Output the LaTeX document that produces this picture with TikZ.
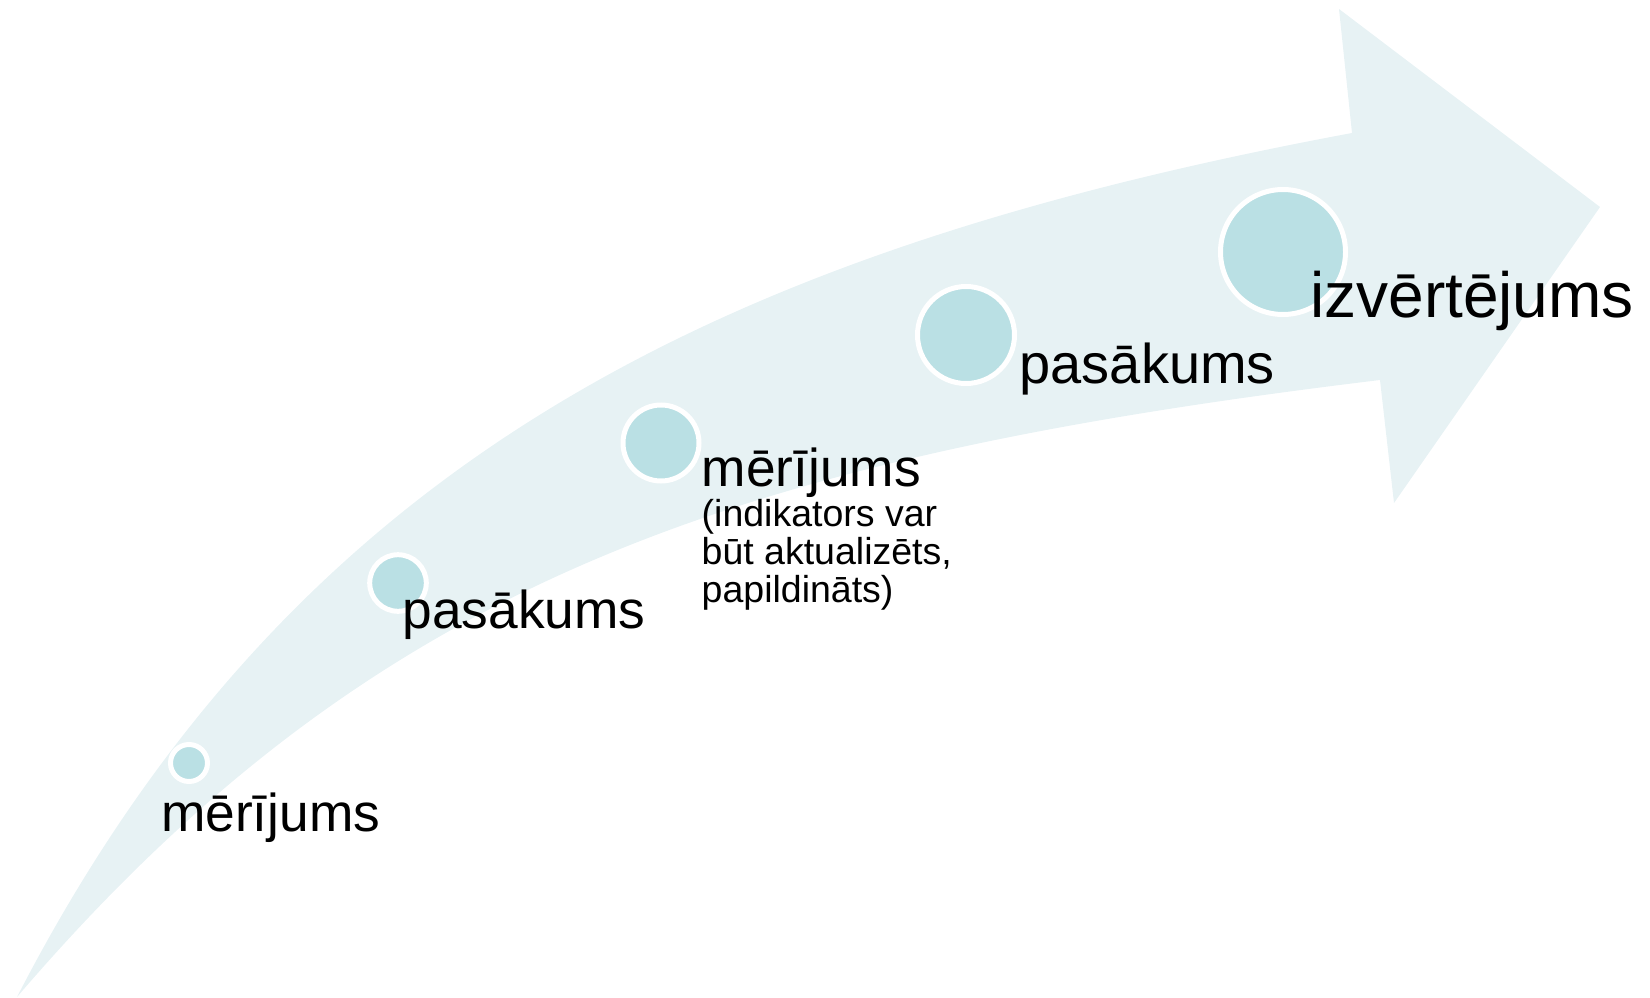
\documentclass[tikz,border=0pt]{standalone}
\usepackage{fontspec}
\setmainfont{Liberation Sans}
\definecolor{arrowfill}{RGB}{231,242,244}
\definecolor{dotfill}{RGB}{186,224,228}
\begin{document}
\begin{tikzpicture}[x=1pt,y=-1pt,
  dot/.style={circle,fill=dotfill,draw=white,line width=5pt,inner sep=0pt},
  lbl/.style={anchor=base west,inner sep=0pt,text=black},
  big/.style={font=\fontsize{53.3}{53.3}\selectfont},
  small/.style={font=\fontsize{37.5}{37.5}\selectfont}]
\useasboundingbox (0,0) rectangle (1650,998);
% curved arrow
\fill[arrowfill] (17,997) .. controls (292,464) and (713,252) .. (1352,133)
  -- (1339,9) -- (1600,207) -- (1394,503) -- (1380,380)
  .. controls (736,458) and (375,579) .. (17,997) -- cycle;
% dots
\node[dot,minimum size=37pt] (c1) at (189,763) {};
\node[dot,minimum size=56.6pt] (c2) at (398,583) {};
\node[dot,minimum size=76pt] (c3) at (661,443) {};
\node[dot,minimum size=97pt] (c4) at (966,335) {};
\node[dot,minimum size=125pt] (c5) at (1283,252) {};
% labels
\node[lbl,big] (t1) at (161,831) {mērījums};
\node[lbl,big] (t2) at (402.5,628) {pasākums};
\node[lbl,big] (t3) at (701.5,486) {mērījums};
\node[lbl,small] (s1) at (701.5,526) {(indikators var};
\node[lbl,small] (s2) at (701.5,564) {būt aktualizēts,};
\node[lbl,small] (s3) at (701.5,602) {papildināts)};
\node[lbl,font=\fontsize{56}{56}\selectfont] (t4) at (1019.5,383) {pasākums};
\node[lbl,font=\fontsize{64}{64}\selectfont] (t5) at (1310,317) {izvērtējums};
\end{tikzpicture}
\end{document}
